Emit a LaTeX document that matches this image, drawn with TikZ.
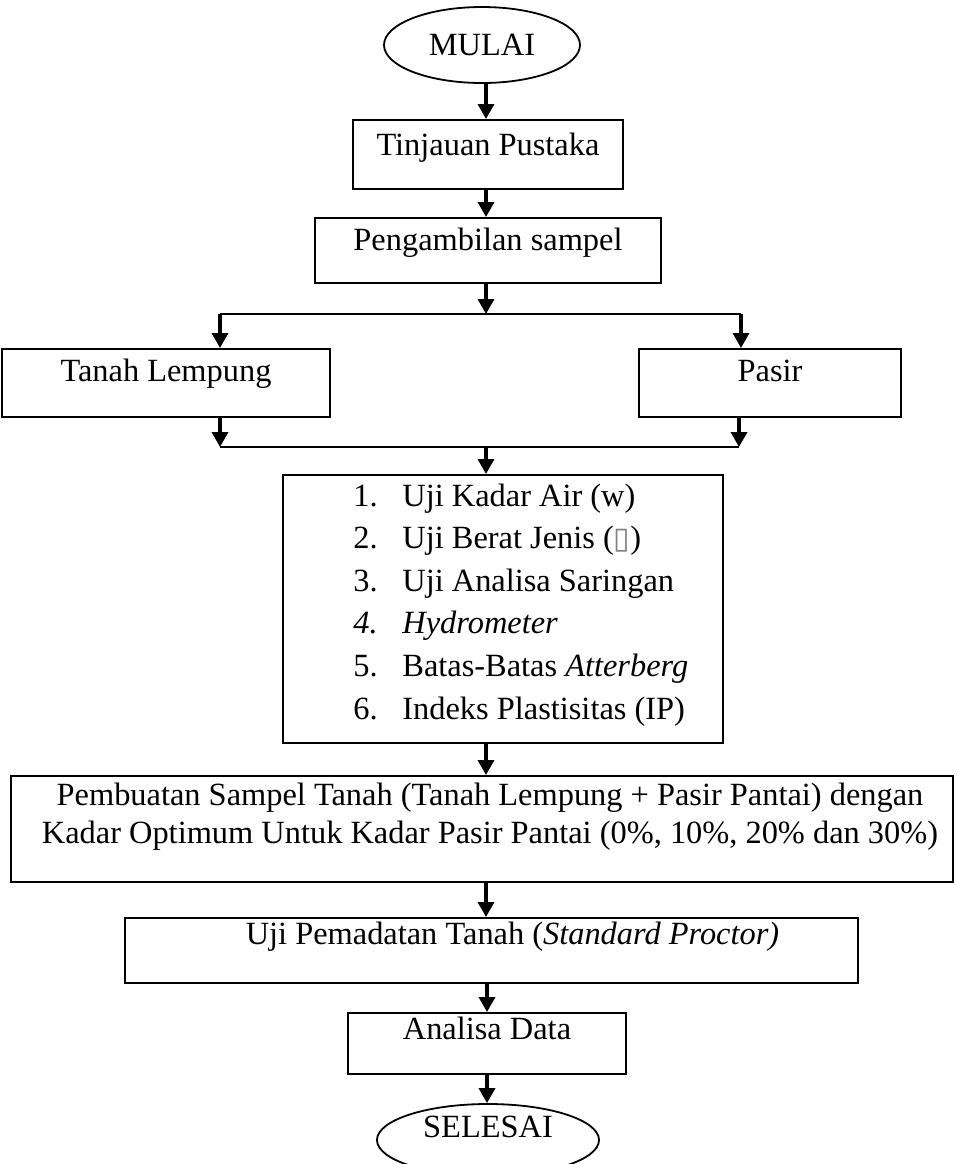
\documentclass[tikz,border=0pt]{standalone}
\usepackage{fontspec}
\setmainfont{Liberation Serif}
\newfontfamily\tofufont{DejaVu Sans}
\usetikzlibrary{arrows.meta,shapes.geometric}
\tikzset{
  terminal/.style={ellipse, draw, line width=0.9pt, inner sep=0pt},
  procbox/.style={rectangle, draw, line width=1.1pt, inner sep=0pt, anchor=north},
  listitem/.style={anchor=base west, inner sep=0pt},
  textline/.style={anchor=base, inner sep=0pt},
  flow/.style={line width=1.7pt, -{Triangle[width=8pt,length=7.5pt]}},
  branch/.style={line width=0.8pt}
}

\begin{document}
\begin{tikzpicture}[x=0.5pt, y=-0.5pt, font=\fontsize{16.2}{19}\selectfont]
  \useasboundingbox (0,0) rectangle (957,1164);
  \coordinate (spine) at (486,0);

  \node[terminal, minimum width=98pt, minimum height=38pt, text height=12pt, text depth=2pt] (mulai) at (482,45) {MULAI};
  \node[procbox, minimum width=135pt, text height=17.5pt, text depth=17pt] (tinjauan) at (488,119) {Tinjauan Pustaka};
  \node[procbox, minimum width=173pt, text height=16pt, text depth=16.5pt] (pengambilan) at (488,217) {Pengambilan sampel};

  \coordinate (split) at (486,314);
  \coordinate (splitL) at (220,314);
  \coordinate (splitR) at (741,314);
  \node[procbox, minimum width=164pt, text height=16pt, text depth=18pt] (lempung) at (166,348) {Tanah Lempung};
  \node[procbox, minimum width=131pt, text height=16pt, text depth=18pt] (pasir) at (770,348) {Pasir};
  \coordinate (join) at (486,447);
  \coordinate (joinL) at (220,447);
  \coordinate (joinR) at (739,447);

  \node[procbox, minimum width=220pt, minimum height=134pt] (listbox) at (503,474) {};
  \node[listitem] (item1) at (353,506) {\makebox[24.5pt][l]{1.}Uji Kadar Air (w)};
  \node[listitem] (item2) at (353,548.6) {\makebox[24.5pt][l]{2.}Uji Berat Jenis ({\tofufont\fontsize{15}{15}\selectfont\color{black!50}▯})};
  \node[listitem] (item3) at (353,591.2) {\makebox[24.5pt][l]{3.}Uji Analisa Saringan};
  \node[listitem] (item4) at (353,633.8) {\itshape\makebox[24.5pt][l]{4.}Hydrometer};
  \node[listitem] (item5) at (353,676.4) {\makebox[24.5pt][l]{5.}Batas-Batas \textit{Atterberg}};
  \node[listitem] (item6) at (353,719) {\makebox[24.5pt][l]{6.}Indeks Plastisitas (IP)};

  \node[procbox, minimum width=471pt, minimum height=53pt] (pembuatan) at (482,775) {};
  \node[textline] (pembuatan1) at (490,805) {Pembuatan Sampel Tanah (Tanah Lempung + Pasir Pantai) dengan};
  \node[textline] (pembuatan2) at (490,843) {Kadar Optimum Untuk Kadar Pasir Pantai (0\%, 10\%, 20\% dan 30\%)};

  \node[procbox, minimum width=366.5pt, text height=13pt, text depth=19.5pt] (uji) at (491.5,917) {\hspace*{21pt}Uji Pemadatan Tanah (\textit{Standard Proctor)}};
  \node[procbox, minimum width=139pt, text height=13pt, text depth=17.5pt] (analisa) at (487,1012) {Analisa Data};
  \node[terminal, minimum width=111pt, minimum height=36pt, text height=10pt, text depth=13pt] (selesai) at (488,1140) {SELESAI};

  % arus utama
  \draw[flow] (spine |- mulai.south) -- (spine |- tinjauan.north);
  \draw[flow] (spine |- tinjauan.south) -- (spine |- pengambilan.north);
  \draw[flow] (spine |- pengambilan.south) -- (split);
  \draw[branch] (splitL) -- (splitR);
  \draw[flow] (splitL) -- (splitL |- lempung.north);
  \draw[flow] (splitR) -- (splitR |- pasir.north);
  \draw[flow] (joinL |- lempung.south) -- (joinL);
  \draw[flow] (joinR |- pasir.south) -- (joinR);
  \draw[branch] (joinL) -- (joinR);
  \draw[flow] (join) -- (join |- listbox.north);
  \draw[flow] (spine |- listbox.south) -- (spine |- pembuatan.north);
  \draw[flow] (spine |- pembuatan.south) -- (spine |- uji.north);
  \draw[flow] (analisa.north |- uji.south) -- (analisa.north);
  \draw[flow] (analisa.south) -- (analisa.south |- selesai.north);
\end{tikzpicture}
\end{document}
